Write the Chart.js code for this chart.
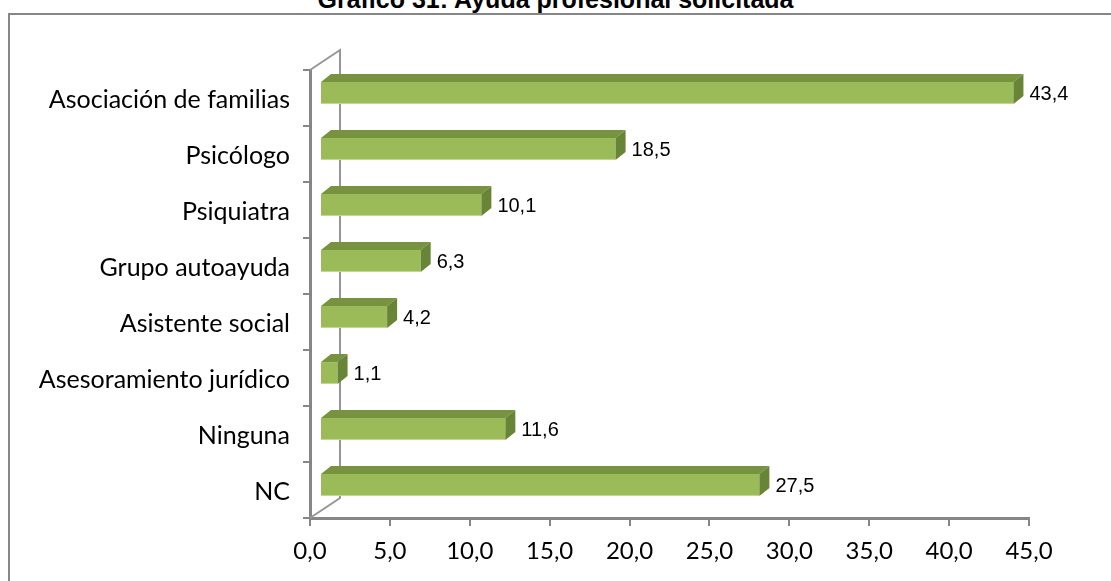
<!DOCTYPE html>
<html lang="es">
  <head>
    <meta charset="UTF-8" />
    <script src="https://cdn.jsdelivr.net/npm/chart.js"></script>
    <style>
      html, body { margin: 0; padding: 0; background: #fff; overflow: hidden; }
      #title {
        position: absolute; left: 0; top: -13px; width: 1111px;
        text-align: center; font: bold 25px "Liberation Sans", Arial, sans-serif;
        line-height: 25px; color: #000;
      }
      #myChart { position: absolute; left: 0; top: 0; }
    </style>
  </head>
  <body>
    <div id="title">Gráfico 31: Ayuda profesional solicitada</div>
    <canvas id="myChart" width="1111" height="581"></canvas>

    <script>
      const categories = [
        "Asociación de familias",
        "Psicólogo",
        "Psiquiatra",
        "Grupo autoayuda",
        "Asistente social",
        "Asesoramiento jurídico",
        "Ninguna",
        "NC",
      ];
      const values = [43.4, 18.5, 10.1, 6.3, 4.2, 1.1, 11.6, 27.5];
      const xMin = 0;
      const xMax = 45;
      const xStep = 5;

      const fmt = (v) => Number(v).toFixed(1).replace(".", ",");

      // fake 3D: bars pushed back a bit, plus top and side faces
      const shift = { x: 10, y: -5 };
      const depth = { x: 10, y: 8 };
      const wall = { x: 30, y: 20 };

      const bars3d = {
        id: "bars3d",
        beforeDraw(chart) {
          const c = chart.ctx;
          c.save();
          c.strokeStyle = "#868686";
          c.lineWidth = 2;
          c.beginPath();
          c.moveTo(9, 581);
          c.lineTo(9, 14);
          c.lineTo(1111, 14);
          c.stroke();
          c.restore();
        },
        beforeDatasetsDraw(chart) {
          const c = chart.ctx;
          const a = chart.chartArea;
          c.save();
          c.strokeStyle = "#969696";
          c.lineWidth = 2;
          c.beginPath();
          c.moveTo(a.left, a.top);
          c.lineTo(a.left + wall.x, a.top - wall.y);
          c.lineTo(a.left + wall.x, a.bottom - wall.y);
          c.lineTo(a.left, a.bottom);
          c.stroke();
          c.restore();
          c.save();
          c.translate(shift.x, shift.y);
        },
        afterDatasetsDraw(chart) {
          const c = chart.ctx;
          const meta = chart.getDatasetMeta(0);
          meta.data.forEach((bar) => {
            const top = bar.y - bar.height / 2;
            const bottom = bar.y + bar.height / 2;
            c.fillStyle = "#77933F";
            c.beginPath();
            c.moveTo(bar.base, top);
            c.lineTo(bar.base + depth.x, top - depth.y);
            c.lineTo(bar.x + depth.x, top - depth.y);
            c.lineTo(bar.x, top);
            c.closePath();
            c.fill();
            c.fillStyle = "#688437";
            c.beginPath();
            c.moveTo(bar.x, top);
            c.lineTo(bar.x + depth.x, top - depth.y);
            c.lineTo(bar.x + depth.x, bottom - depth.y);
            c.lineTo(bar.x, bottom);
            c.closePath();
            c.fill();
            // light lower edge of the front face
            c.fillStyle = "#C4D79B";
            c.fillRect(bar.base, bottom - 1, bar.x - bar.base, 1);
          });
          c.restore();

          c.save();
          c.fillStyle = "#000";
          c.font = '20px "Liberation Sans", Arial, sans-serif';
          c.textBaseline = "middle";
          meta.data.forEach((bar, i) => {
            c.fillText(fmt(values[i]), bar.x + shift.x + depth.x + 6, bar.y + shift.y + 1);
          });
          c.restore();
        },
      };

      const myChart = new Chart(document.getElementById("myChart"), {
        type: "bar",
        data: {
          labels: categories,
          datasets: [
            {
              data: values,
              backgroundColor: "#9BBB59",
              borderWidth: 0,
              barPercentage: 0.39,
              categoryPercentage: 1,
              clip: false,
            },
          ],
        },
        options: {
          indexAxis: "y",
          responsive: false,
          animation: false,
          devicePixelRatio: 1,
          layout: { padding: { left: 0, right: 82, top: 70, bottom: 0 } },
          plugins: {
            legend: { display: false },
            tooltip: { enabled: false },
          },
          scales: {
            x: {
              min: xMin,
              max: xMax,
              afterFit: (s) => { s.height = 63; },
              ticks: {
                stepSize: xStep,
                callback: (v) => fmt(v),
                color: "#000",
                padding: 11,
                font: { family: "Lato", size: 24 },
              },
              grid: {
                drawOnChartArea: false,
                tickLength: 8,
                color: "#868686",
                lineWidth: 2,
              },
              border: { color: "#868686", width: 3 },
            },
            y: {
              afterFit: (s) => { s.width = 310; },
              ticks: {
                color: "#000",
                padding: 13,
                labelOffset: 2,
                font: { family: "Lato", size: 25 },
              },
              grid: {
                drawOnChartArea: false,
                tickLength: 7,
                color: "#868686",
                lineWidth: 2,
              },
              border: { color: "#868686", width: 3 },
            },
          },
        },
        plugins: [bars3d],
      });
    </script>
  </body>
</html>
